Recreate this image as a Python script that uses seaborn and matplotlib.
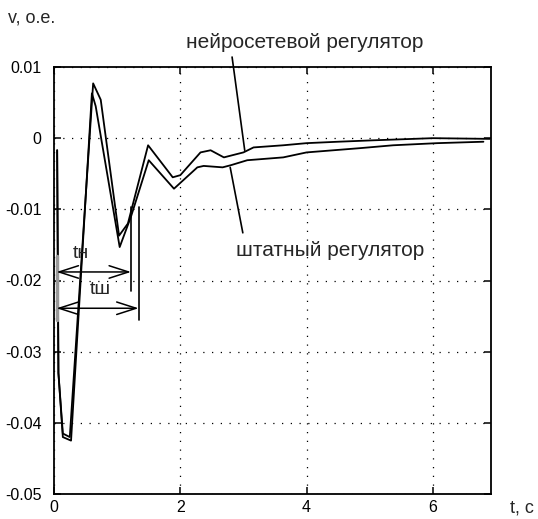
import matplotlib
matplotlib.use("Agg")
import matplotlib.pyplot as plt
import seaborn as sns
import numpy as np
import pandas as pd

# ---- data ----
t_neuro = [0.05, 0.07, 0.14, 0.25, 0.62, 0.74, 1.03, 1.17, 1.49, 1.88, 2.0, 2.32,
           2.48, 2.69, 3.0, 3.16, 3.63, 4.0, 4.5, 5.06, 6.0, 6.9]
v_neuro = [-0.0017, -0.033, -0.0415, -0.042, 0.0077, 0.0054, -0.0137, -0.012, -0.001,
           -0.0055, -0.0052, -0.002, -0.0017, -0.0027, -0.002, -0.0013, -0.001,
           -0.0007, -0.0005, -0.0003, 0.0, -0.0001]

t_std = [0.05, 0.07, 0.14, 0.27, 0.60, 0.66, 1.04, 1.22, 1.50, 1.90, 2.27, 2.37,
         2.67, 2.80, 3.06, 3.63, 4.0, 4.85, 5.37, 6.07, 6.8]
v_std = [-0.0017, -0.033, -0.042, -0.0425, 0.0063, 0.0045, -0.0153, -0.011, -0.0031,
         -0.0071, -0.0041, -0.0039, -0.0041, -0.0038, -0.0031, -0.0027, -0.002,
         -0.0014, -0.001, -0.0007, -0.0005]

x_ticks = [0, 2, 4, 6]
y_ticks = [0.01, 0, -0.01, -0.02, -0.03, -0.04, -0.05]
y_tick_labels = ["0.01", "0", "-0.01", "-0.02", "-0.03", "-0.04", "-0.05"]

label_neuro = "нейросетевой регулятор"
label_std = "штатный регулятор"
y_label = "v, о.е."
x_label = "t, c"
t_n_label = "tн"
t_sh_label = "tш"
t_start = 0.04
t_n_end = 1.22
t_sh_end = 1.34
v_t_n = -0.0188
v_t_sh = -0.0239

# ---- style ----
sns.set_style("ticks")
plt.rcParams["font.family"] = ["Liberation Sans", "DejaVu Sans"]
plt.rcParams["axes.unicode_minus"] = False

fig = plt.figure(figsize=(5.38, 5.19), dpi=100)
ax = fig.add_axes([54 / 538, 25 / 519, 437 / 538, 427 / 519])

df_n = pd.DataFrame({"t": t_neuro, "v": v_neuro})
df_s = pd.DataFrame({"t": t_std, "v": v_std})
sns.lineplot(data=df_n, x="t", y="v", ax=ax, color="black", lw=1.3,
             estimator=None, sort=False)
sns.lineplot(data=df_s, x="t", y="v", ax=ax, color="black", lw=1.3,
             estimator=None, sort=False)

ax.set_xlim(0, 6.92)
ax.set_ylim(-0.05, 0.01)
ax.set_xticks(x_ticks)
ax.set_xticklabels([str(x) for x in x_ticks])
ax.set_yticks(y_ticks)
ax.set_yticklabels(y_tick_labels)
ax.set_xlabel("")
ax.set_ylabel("")
ax.grid(True, color="black", linestyle=(0, (1, 6)), linewidth=0.9)
ax.tick_params(direction="in", length=5, width=1.1, top=True, right=True,
               labelsize=11.5, colors="black")
ax.tick_params(axis="y", pad=9)
ax.tick_params(axis="x", pad=4)
for sp in ax.spines.values():
    sp.set_visible(True)
    sp.set_linewidth(1.3)
    sp.set_color("black")

# interval annotations
arrow_kw = dict(arrowstyle="<->,head_length=1.4,head_width=0.45", color="black",
                lw=1.1, shrinkA=0, shrinkB=0)
ax.annotate("", xy=(t_start, v_t_n), xytext=(t_n_end, v_t_n), arrowprops=arrow_kw)
ax.annotate("", xy=(t_start, v_t_sh), xytext=(t_sh_end, v_t_sh), arrowprops=arrow_kw)
ax.plot([t_n_end, t_n_end], [-0.0097, -0.0215], color="black", lw=1.2)
ax.plot([t_sh_end, t_sh_end], [-0.0097, -0.0256], color="black", lw=1.2)
ax.plot([t_start, t_start], [-0.0165, -0.0255], color="0.6", lw=2.5)
ax.text(0.43, -0.0162, t_n_label, ha="center", va="center", fontsize=14)
ax.text(0.73, -0.0213, t_sh_label, ha="center", va="center", fontsize=14)

# leader lines & labels
ax.plot([2.82, 3.02], [0.0114, -0.0017], color="black", lw=1.2, clip_on=False)
ax.plot([2.79, 2.99], [-0.0041, -0.0133], color="black", lw=1.2)
ax.text(3.97, 0.0135, label_neuro, ha="center", va="center", fontsize=15,
        clip_on=False)
ax.text(4.37, -0.0158, label_std, ha="center", va="center", fontsize=15)

fig.text(8 / 538, 1 - 18 / 519, y_label, ha="left", va="center", fontsize=13)
fig.text(510 / 538, 1 - 508 / 519, x_label, ha="left", va="center", fontsize=13)

fig.savefig("out.png", dpi=100, facecolor="white")
